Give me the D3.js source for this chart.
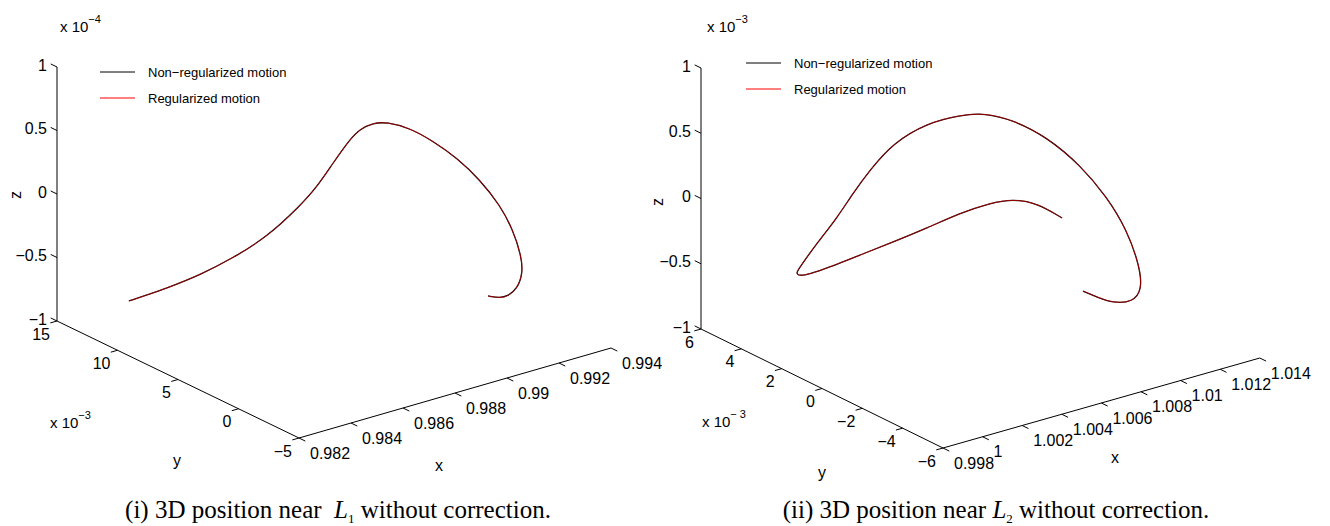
<!DOCTYPE html>
<html>
<head>
<meta charset="utf-8">
<script src="https://cdn.jsdelivr.net/npm/d3@7"></script>
<style>
  html, body { margin: 0; padding: 0; background: #fff; }
  svg { display: block; }
  text { font-family: "Liberation Sans", Arial, Helvetica, sans-serif; fill: #000; }
  text.caption { font-family: "Liberation Serif", "Times New Roman", serif; }
</style>
</head>
<body>
<svg id="chart" width="1330" height="526"></svg>
<script>
// Two 3D trajectory plots (MATLAB plot3 look), one near L1, one near L2.
// The non-regularized and regularized runs overlap to plotting accuracy,
// so both series are drawn from the same sampled points.
// y is stored in units of 1e-3, z in 1e-4 (L1) and 1e-3 (L2), as on the axes.

// --- (i) near L1 ---
const L1_X = [0.98337, 0.98395, 0.98437, 0.98517, 0.98598, 0.98682, 0.98762, 0.98804,
  0.98843, 0.98885, 0.98900, 0.98927, 0.98957, 0.98999, 0.99041, 0.99087, 0.99129,
  0.99159, 0.99172, 0.99175, 0.99164, 0.99132, 0.99097, 0.99071, 0.99034];
const L1_Y = [12, 11.5, 11, 10, 9, 8, 7, 6.5, 6, 5.5, 5, 4.5, 4, 3, 2, 1, 0,
  -1, -1.8, -2.4, -2.8, -3, -3, -2.9, -2.7];
const L1_Z = [-0.785, -0.741, -0.696, -0.595, -0.462, -0.301, -0.058, 0.090, 0.279,
  0.466, 0.559, 0.614, 0.626, 0.600, 0.519, 0.405, 0.253, 0.084, -0.084, -0.254,
  -0.371, -0.469, -0.504, -0.509, -0.480];

const L1_XTICKS = [0.982, 0.984, 0.986, 0.988, 0.990, 0.992, 0.994];
const L1_XLABELS = ["0.982", "0.984", "0.986", "0.988", "0.99", "0.992", "0.994"];
const L1_YTICKS = [-5, 0, 5, 10, 15];
const L1_YLABELS = ["\u22125", "0", "5", "10", "15"];
const L1_ZTICKS = [-1, -0.5, 0, 0.5, 1];
const L1_ZLABELS = ["\u22121", "\u22120.5", "0", "0.5", "1"];

// --- (ii) near L2 ---
const L2_X = [1.00809, 1.00733, 1.00663, 1.00598, 1.00497, 1.00402, 1.00301, 1.00206,
  1.00111, 1.00065, 1.00030, 1.00025, 1.00045, 1.00121, 1.00212, 1.00283, 1.00358,
  1.00454, 1.00595, 1.00721, 1.00807, 1.00887, 1.00987, 1.01073, 1.01127, 1.01147,
  1.01141, 1.01100, 1.01024, 1.00903, 1.00812, 1.00731];
const L2_Y = [-2, -1.5, -1, -0.5, 0, 0.7, 1.4, 2.1, 2.8, 3.2, 3.4, 3.5, 3.5, 3.4, 3.3,
  3.2, 3.1, 2.9, 2.6, 2.2, 1.8, 1.2, 0.5, -0.3, -1.1, -1.9, -2.6, -3.1, -3.4, -3.6,
  -3.7, -3.8];
const L2_Z = [0.024, 0.133, 0.156, 0.115, 0.044, -0.083, -0.200, -0.312, -0.424, -0.480,
  -0.496, -0.478, -0.441, -0.282, -0.122, 0.047, 0.198, 0.379, 0.494, 0.531, 0.540,
  0.498, 0.377, 0.187, -0.021, -0.222, -0.450, -0.570, -0.607, -0.547, -0.454, -0.366];

const L2_XTICKS = [0.998, 1.000, 1.002, 1.004, 1.006, 1.008, 1.010, 1.012, 1.014];
const L2_XLABELS = ["0.998", "1", "1.002", "1.004", "1.006", "1.008", "1.01", "1.012", "1.014"];
const L2_YTICKS = [-6, -4, -2, 0, 2, 4, 6];
const L2_YLABELS = ["\u22126", "\u22124", "\u22122", "0", "2", "4", "6"];
const L2_ZTICKS = [-1, -0.5, 0, 0.5, 1];
const L2_ZLABELS = ["\u22121", "\u22120.5", "0", "0.5", "1"];

const SERIES = ["Non\u2212regularized motion", "Regularized motion"];
const SERIES_COLORS = ["#000000", "#ff0000"];

// Panel layout: origin = screen point of (xmin, ymin, zmin); X/Y/Z = screen
// vector spanned by each full axis (fixed MATLAB view).
const panels = [
  {
    xs: L1_X, ys: L1_Y, zs: L1_Z,
    xDomain: [0.982, 0.994], yDomain: [-5, 15], zDomain: [-1, 1],
    xTicks: L1_XTICKS, xLabels: L1_XLABELS,
    yTicks: L1_YTICKS, yLabels: L1_YLABELS,
    zTicks: L1_ZTICKS, zLabels: L1_ZLABELS,
    origin: [299, 438], X: [312, -90], Y: [-242, -117], Z: [0, -254],
    zExp: "\u22124", zExpPos: [60, 32],
    yExp: "\u22123", yExpPos: [50, 428],
    xName: [439, 465], yName: [177, 460], zName: [15, 195],
    legend: [100, 72],
    caption: { x: 338, pre: "(i) 3D position near\u00a0\u00a0", sub: "1" },
  },
  {
    xs: L2_X, ys: L2_Y, zs: L2_Z,
    xDomain: [0.998, 1.014], yDomain: [-6, 6], zDomain: [-1, 1],
    xTicks: L2_XTICKS, xLabels: L2_XLABELS,
    yTicks: L2_YTICKS, yLabels: L2_YLABELS,
    zTicks: L2_ZTICKS, zLabels: L2_ZLABELS,
    origin: [943, 448], X: [316.8, -90], Y: [-242, -119], Z: [0, -261],
    zExp: "\u22123", zExpPos: [707, 32],
    yExp: "\u2212 3", yExpPos: [702, 427],
    xName: [1115, 457], yName: [822, 472], zName: [657, 202],
    legend: [746, 63],
    caption: { x: 996, pre: "(ii) 3D position near ", sub: "2" },
  },
];

const svg = d3.select("#chart");
svg.append("rect").attr("width", 1330).attr("height", 526).attr("fill", "#fff");

const TICK_LEN = 7;
const unit = v => { const n = Math.hypot(v[0], v[1]); return [v[0] / n, v[1] / n]; };

panels.forEach(p => {
  const sx = d3.scaleLinear().domain(p.xDomain).range([0, 1]);
  const sy = d3.scaleLinear().domain(p.yDomain).range([0, 1]);
  const sz = d3.scaleLinear().domain(p.zDomain).range([0, 1]);
  const proj = (x, y, z) => [
    p.origin[0] + sx(x) * p.X[0] + sy(y) * p.Y[0] + sz(z) * p.Z[0],
    p.origin[1] + sx(x) * p.X[1] + sy(y) * p.Y[1] + sz(z) * p.Z[1],
  ];
  const [x0, x1] = p.xDomain, [y0, y1] = p.yDomain, [z0, z1] = p.zDomain;
  const g = svg.append("g");

  // axis lines: x at (ymin,zmin), y at (xmin,zmin), z at (xmin,ymax)
  const axes = [
    [proj(x0, y0, z0), proj(x1, y0, z0)],
    [proj(x0, y0, z0), proj(x0, y1, z0)],
    [proj(x0, y1, z0), proj(x0, y1, z1)],
  ];
  g.selectAll("line.axis").data(axes).join("line")
    .attr("class", "axis")
    .attr("x1", d => d[0][0]).attr("y1", d => d[0][1])
    .attr("x2", d => d[1][0]).attr("y2", d => d[1][1])
    .attr("stroke", "#000").attr("stroke-width", 1);

  const uX = unit(p.X), uY = unit(p.Y);

  // x ticks point out along -y
  p.xTicks.forEach((t, i) => {
    const a = proj(t, y0, z0);
    g.append("line")
      .attr("x1", a[0]).attr("y1", a[1])
      .attr("x2", a[0] - uY[0] * TICK_LEN).attr("y2", a[1] - uY[1] * TICK_LEN)
      .attr("stroke", "#000");
    g.append("text")
      .attr("x", a[0] + 11).attr("y", a[1] + 15).attr("dy", "0.35em")
      .attr("font-size", 16)
      .text(p.xLabels[i]);
  });

  // y ticks point out along -x
  p.yTicks.forEach((t, i) => {
    const a = proj(x0, t, z0);
    g.append("line")
      .attr("x1", a[0]).attr("y1", a[1])
      .attr("x2", a[0] - uX[0] * TICK_LEN).attr("y2", a[1] - uX[1] * TICK_LEN)
      .attr("stroke", "#000");
    g.append("text")
      .attr("x", a[0] - 7).attr("y", a[1] + 13).attr("dy", "0.35em")
      .attr("text-anchor", "end").attr("font-size", 16)
      .text(p.yLabels[i]);
  });

  // z ticks point out along +y
  p.zTicks.forEach((t, i) => {
    const a = proj(x0, y1, t);
    g.append("line")
      .attr("x1", a[0]).attr("y1", a[1])
      .attr("x2", a[0] + uY[0] * TICK_LEN).attr("y2", a[1] + uY[1] * TICK_LEN)
      .attr("stroke", "#000");
    g.append("text")
      .attr("x", a[0] - 10).attr("y", a[1] - 2).attr("dy", "0.35em")
      .attr("text-anchor", "end").attr("font-size", 16)
      .text(p.zLabels[i]);
  });

  // exponent labels
  const expLabel = (pos, exp) => {
    const t = g.append("text").attr("x", pos[0]).attr("y", pos[1]).attr("font-size", 15);
    t.append("tspan").text("x 10");
    t.append("tspan").attr("dy", -9).attr("font-size", 11).text(exp);
  };
  expLabel(p.zExpPos, p.zExp);
  expLabel(p.yExpPos, p.yExp);

  // axis names
  g.append("text").attr("x", p.xName[0]).attr("y", p.xName[1]).attr("dy", "0.35em")
    .attr("text-anchor", "middle").attr("font-size", 16).text("x");
  g.append("text").attr("x", p.yName[0]).attr("y", p.yName[1]).attr("dy", "0.35em")
    .attr("text-anchor", "middle").attr("font-size", 16).text("y");
  g.append("text")
    .attr("transform", `translate(${p.zName[0]},${p.zName[1]}) rotate(-90)`)
    .attr("dy", "0.35em").attr("text-anchor", "middle").attr("font-size", 16).text("z");

  // trajectory: black first, red on top
  const pts = p.xs.map((x, i) => proj(x, p.ys[i], p.zs[i]));
  const line = d3.line().curve(d3.curveBasis);
  g.append("path").attr("d", line(pts))
    .attr("fill", "none").attr("stroke", SERIES_COLORS[0]).attr("stroke-width", 1.3);
  g.append("path").attr("d", line(pts))
    .attr("fill", "none").attr("stroke", SERIES_COLORS[1]).attr("stroke-width", 1)
    .attr("stroke-opacity", 0.6);

  // legend
  SERIES.forEach((s, i) => {
    const ly = p.legend[1] + i * 26;
    g.append("line")
      .attr("x1", p.legend[0]).attr("x2", p.legend[0] + 35)
      .attr("y1", ly).attr("y2", ly)
      .attr("stroke", SERIES_COLORS[i]).attr("stroke-width", 1);
    g.append("text")
      .attr("x", p.legend[0] + 48).attr("y", ly).attr("dy", "0.35em")
      .attr("font-size", 13).text(s);
  });

  // caption
  const cap = svg.append("text").attr("class", "caption")
    .attr("x", p.caption.x).attr("y", 518)
    .attr("text-anchor", "middle").attr("font-size", 25);
  cap.append("tspan").text(p.caption.pre);
  cap.append("tspan").attr("font-style", "italic").text("L");
  cap.append("tspan").attr("font-size", 13).attr("dy", 5).text(p.caption.sub);
  cap.append("tspan").attr("dy", -5).text(" without correction.");
});
</script>
</body>
</html>
